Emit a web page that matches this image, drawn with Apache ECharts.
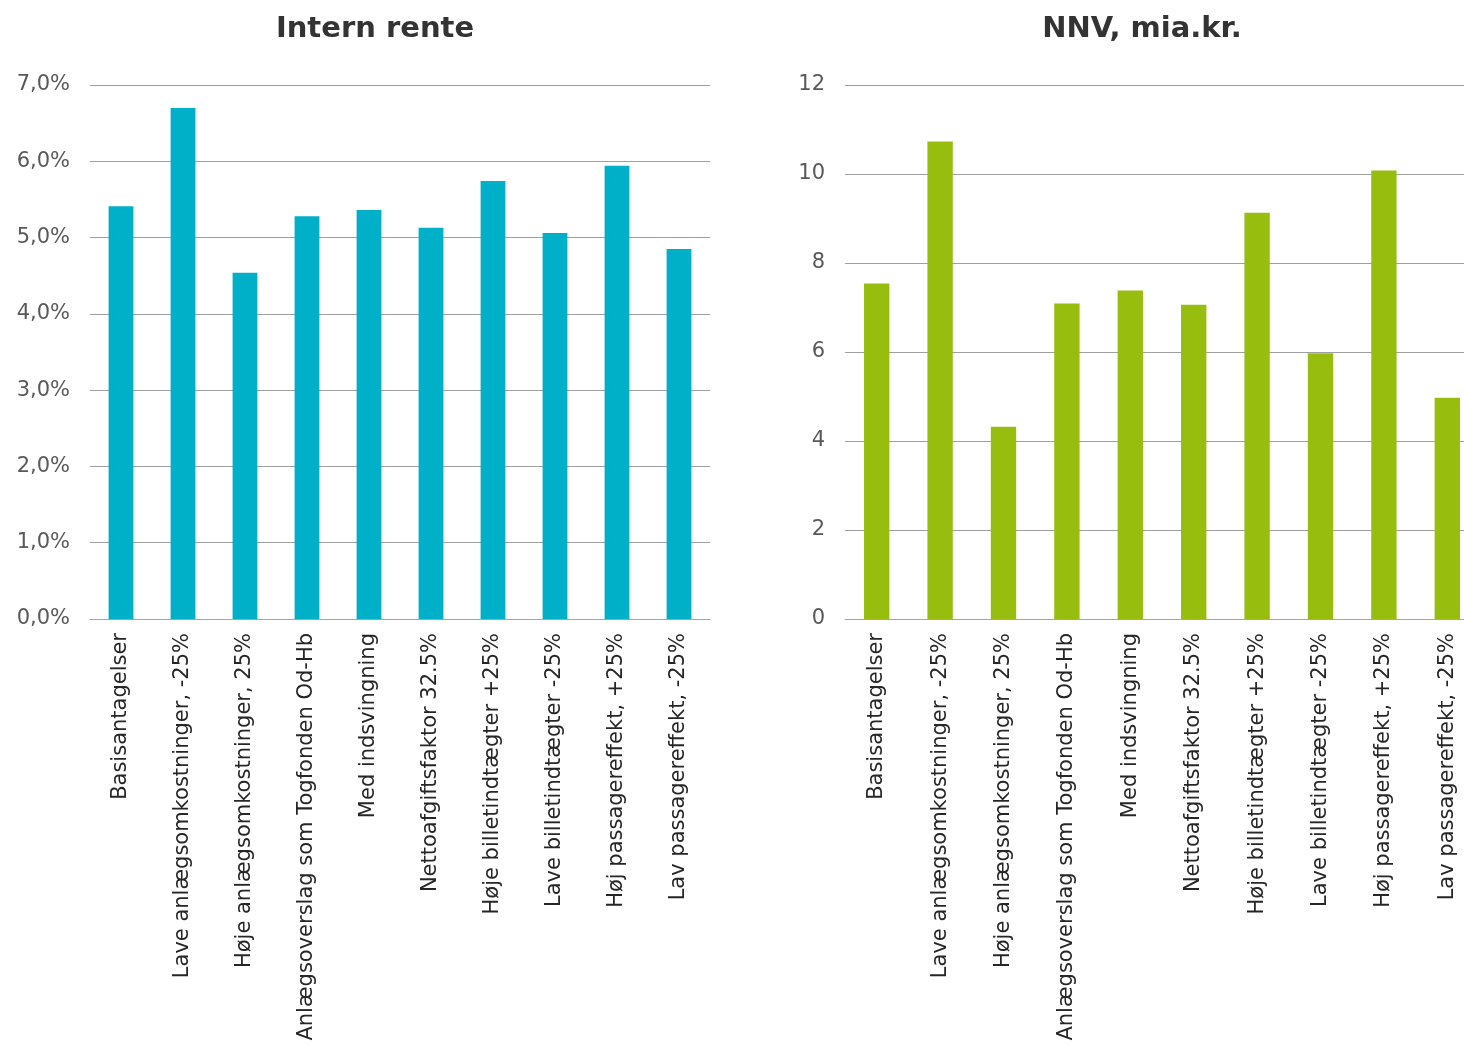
<!DOCTYPE html>
<html>
<head>
<meta charset="utf-8">
<script src="https://cdn.jsdelivr.net/npm/echarts@6/dist/echarts.min.js"></script>
<style>
html,body{margin:0;padding:0;background:#fff;overflow:hidden;width:1464px;height:1046px;}
#c{width:1490px;height:1046px;}
</style>
</head>
<body>
<div id="c"></div>
<script>
var categories = [
  'Basisantagelser',
  'Lave anlægsomkostninger, -25%',
  'Høje anlægsomkostninger, 25%',
  'Anlægsoverslag som Togfonden Od-Hb',
  'Med indsvingning',
  'Nettoafgiftsfaktor 32.5%',
  'Høje billetindtægter +25%',
  'Lave billetindtægter -25%',
  'Høj passagereffekt, +25%',
  'Lav passagereffekt, -25%'
];
var internRente = [5.41, 6.70, 4.54, 5.28, 5.36, 5.13, 5.74, 5.06, 5.94, 4.85];
var nnv = [7.54, 10.73, 4.32, 7.09, 7.38, 7.06, 9.13, 5.97, 10.08, 4.97];
var titles = ['Intern rente', 'NNV, mia.kr.'];

var chart = echarts.init(document.getElementById('c'), null, {renderer: 'canvas'});
var font = 'DejaVu Sans';
function catAxis(gi) {
  return {
    type: 'category', gridIndex: gi, data: categories,
    axisLine: {show: true, lineStyle: {color: '#a6a6a6', width: 1}},
    axisTick: {show: false},
    axisLabel: {rotate: 90, margin: 14, fontFamily: font, fontSize: 21, color: '#262626', interval: 0}
  };
}
function valAxis(gi, max, interval, fmt) {
  return {
    type: 'value', gridIndex: gi, min: 0, max: max, interval: interval,
    axisLine: {show: false}, axisTick: {show: false},
    splitLine: {lineStyle: {color: '#a0a0a0', width: 1}},
    axisLabel: {margin: 20, fontFamily: font, fontSize: 21, color: '#595959', formatter: fmt,
                padding: [9, 0, 0, 0]}
  };
}
chart.setOption({
  animation: false,
  backgroundColor: '#fff',
  title: [
    {text: titles[0], left: 370, top: 10, textAlign: 'center',
     textStyle: {fontFamily: font, fontWeight: 'bold', fontSize: 29, color: '#333333'}},
    {text: titles[1], left: 1137, top: 10, textAlign: 'center',
     textStyle: {fontFamily: font, fontWeight: 'bold', fontSize: 29, color: '#333333'}}
  ],
  grid: [
    {left: 90, top: 85, width: 620, height: 534},
    {left: 845, top: 85, width: 634, height: 534}
  ],
  xAxis: [catAxis(0), catAxis(1)],
  yAxis: [
    valAxis(0, 7, 1, function (v) { return v.toFixed(1).replace('.', ',') + '%'; }),
    valAxis(1, 12, 2, function (v) { return String(v); })
  ],
  series: [
    {type: 'bar', xAxisIndex: 0, yAxisIndex: 0, data: internRente, barWidth: '40%',
     itemStyle: {color: '#00AFC8'}},
    {type: 'bar', xAxisIndex: 1, yAxisIndex: 1, data: nnv, barWidth: '40%',
     itemStyle: {color: '#97BE0F'}}
  ]
});
</script>
</body>
</html>
